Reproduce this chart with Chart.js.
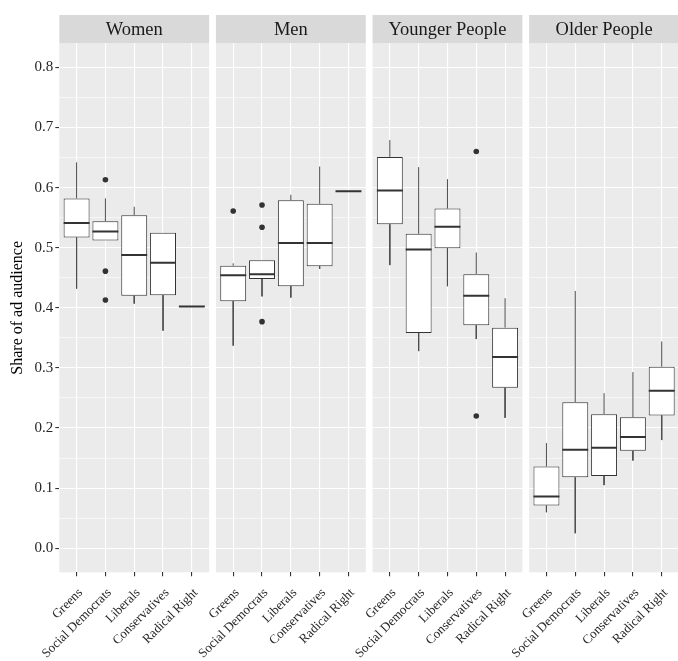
<!DOCTYPE html>
<html>
<head>
<meta charset="utf-8">
<script src="https://cdn.jsdelivr.net/npm/chart.js@4.4.0/dist/chart.umd.min.js"></script>
<style>
  html, body { margin: 0; padding: 0; background: #fff; overflow: hidden; }
  #wrap { width: 683px; height: 661px; }
</style>
</head>
<body>
<div id="wrap"><canvas id="boxChart" width="683" height="661"></canvas></div>
<script>
const panels = ['Women', 'Men', 'Younger People', 'Older People'];
const parties = ['Greens', 'Social Democrats', 'Liberals', 'Conservatives', 'Radical Right'];

// one row per panel, one column per party
const whiskerLow = [
    [0.432, 0.512, 0.407, 0.362, 0.402],
    [0.337, 0.419, 0.417, 0.465, 0.594],
    [0.471, 0.328, 0.436, 0.348, 0.217],
    [0.060, 0.025, 0.105, 0.146, 0.180]
];
const lowerHinge = [
    [0.517, 0.512, 0.420, 0.421, 0.402],
    [0.411, 0.448, 0.436, 0.469, 0.594],
    [0.539, 0.358, 0.499, 0.371, 0.267],
    [0.071, 0.118, 0.120, 0.162, 0.221]
];
const medians = [
    [0.541, 0.527, 0.488, 0.475, 0.402],
    [0.454, 0.456, 0.508, 0.508, 0.594],
    [0.595, 0.497, 0.535, 0.420, 0.318],
    [0.086, 0.164, 0.167, 0.185, 0.262]
];
const upperHinge = [
    [0.582, 0.544, 0.554, 0.525, 0.402],
    [0.470, 0.479, 0.579, 0.573, 0.594],
    [0.651, 0.523, 0.565, 0.456, 0.367],
    [0.136, 0.243, 0.223, 0.218, 0.302]
];
const whiskerHigh = [
    [0.642, 0.582, 0.568, 0.525, 0.402],
    [0.474, 0.479, 0.588, 0.635, 0.594],
    [0.679, 0.634, 0.614, 0.492, 0.416],
    [0.175, 0.428, 0.258, 0.293, 0.344]
];
const outliers = [
    [[], [0.613, 0.461, 0.413], [], [], []],
    [[0.561], [0.571, 0.534, 0.377], [], [], []],
    [[], [], [], [0.660, 0.220], []],
    [[], [], [], [], []]
];
const yTicks = [0, 0.1, 0.2, 0.3, 0.4, 0.5, 0.6, 0.7, 0.8];

const panelWidth = 5.2;   // 5 slots plus 0.6 expansion on each side
const panelGap = 0.235;
const halfBox = 0.45;

function xPos(p, i) {
    return p * (panelWidth + panelGap) + 0.6 + i;
}
function isMajor(v) {
    return Math.abs(v * 10 - Math.round(v * 10)) < 1e-6;
}

// build datasets from the arrays
const boxData = [], medianData = [], whiskerData = [], outlierData = [], xTicks = [];
panels.forEach((name, p) => {
    parties.forEach((party, i) => {
        const x = xPos(p, i);
        xTicks.push(x);
        boxData.push({ x: x, y: [lowerHinge[p][i], upperHinge[p][i]] });
        medianData.push({ x: x - halfBox, y: medians[p][i] }, { x: x + halfBox, y: medians[p][i] }, { x: x + halfBox, y: null });
        whiskerData.push({ x: x, y: upperHinge[p][i] }, { x: x, y: whiskerHigh[p][i] }, { x: x, y: null });
        whiskerData.push({ x: x, y: lowerHinge[p][i] }, { x: x, y: whiskerLow[p][i] }, { x: x, y: null });
        outliers[p][i].forEach(v => outlierData.push({ x: x, y: v }));
    });
});

let minorTicks = [];
for (let k = 0; k < yTicks.length - 1; k++) minorTicks.push((yTicks[k] + yTicks[k + 1]) / 2);
const allYTicks = yTicks.concat(minorTicks).sort((a, b) => a - b);

// gray panels and facet strips
const facetPlugin = {
    id: 'facets',
    beforeDraw(chart) {
        const ctx = chart.ctx;
        const xs = chart.scales.x;
        const area = chart.chartArea;
        ctx.save();
        panels.forEach((name, p) => {
            const left = xs.getPixelForValue(p * (panelWidth + panelGap));
            const right = xs.getPixelForValue(p * (panelWidth + panelGap) + panelWidth);
            ctx.fillStyle = '#EBEBEB';
            ctx.fillRect(left, area.top, right - left, area.bottom - area.top);
            ctx.fillStyle = '#D9D9D9';
            ctx.fillRect(left, 15, right - left, area.top - 15);
            ctx.fillStyle = '#1A1A1A';
            ctx.font = '18.5px "Liberation Serif"';
            ctx.textAlign = 'center';
            ctx.textBaseline = 'middle';
            ctx.fillText(name, (left + right) / 2, (15 + area.top) / 2 + 1);
        });
        ctx.restore();
    }
};

Chart.defaults.font.family = '"Liberation Serif", "Times New Roman", serif';

const ctx = document.getElementById('boxChart').getContext('2d');
const boxChart = new Chart(ctx, {
    type: 'bar',
    data: {
        datasets: [
            {
                type: 'line',
                data: medianData,
                borderColor: '#333333',
                borderWidth: 2,
                pointRadius: 0,
                spanGaps: false,
                fill: false
            },
            {
                type: 'bar',
                data: boxData,
                backgroundColor: '#FFFFFF',
                borderColor: '#333333',
                borderWidth: 1,
                borderSkipped: false,
                barPercentage: 0.9,
                categoryPercentage: 1
            },
            {
                type: 'line',
                data: whiskerData,
                borderColor: '#4D4D4D',
                borderWidth: 1,
                pointRadius: 0,
                spanGaps: false,
                fill: false
            },
            {
                type: 'scatter',
                data: outlierData,
                backgroundColor: '#333333',
                borderWidth: 0,
                pointRadius: 2.8
            }
        ]
    },
    options: {
        responsive: false,
        animation: false,
        events: [],
        layout: { padding: { top: 43.3, left: 0, right: 0, bottom: 0 } },
        plugins: { legend: { display: false }, tooltip: { enabled: false } },
        scales: {
            x: {
                type: 'linear',
                min: 0,
                max: 4 * panelWidth + 3 * panelGap,
                offset: false,
                grid: {
                    offset: false,
                    color: '#FFFFFF',
                    lineWidth: 1.1,
                    tickColor: '#333333',
                    tickLength: 4
                },
                border: { display: false },
                afterBuildTicks: scale => { scale.ticks = xTicks.map(v => ({ value: v })); },
                afterFit: scale => {
                    scale.height = 88.7;
                    scale.paddingLeft = 0;
                    scale.paddingRight = 0;
                },
                ticks: {
                    autoSkip: false,
                    minRotation: 45,
                    maxRotation: 45,
                    padding: 9,
                    labelOffset: 4,
                    color: '#262626',
                    font: { size: 13 },
                    callback: (value, index) => parties[index % parties.length]
                }
            },
            y: {
                min: -0.04,
                max: 0.84,
                grid: {
                    color: '#FFFFFF',
                    lineWidth: c => isMajor(c.tick.value) ? 1.1 : 0.55,
                    tickColor: c => isMajor(c.tick.value) ? '#333333' : 'rgba(0,0,0,0)',
                    tickLength: 4
                },
                border: { display: false },
                afterBuildTicks: scale => { scale.ticks = allYTicks.map(v => ({ value: v })); },
                afterFit: scale => { scale.width = 59.3; },
                ticks: {
                    padding: 2,
                    color: '#262626',
                    font: { size: 15 },
                    callback: value => isMajor(value) ? value.toFixed(1) : ''
                },
                title: {
                    display: true,
                    text: 'Share of ad audience',
                    color: '#000000',
                    font: { size: 16 },
                    padding: { top: 8, bottom: 0 }
                }
            }
        }
    },
    plugins: [facetPlugin]
});
</script>
</body>
</html>
